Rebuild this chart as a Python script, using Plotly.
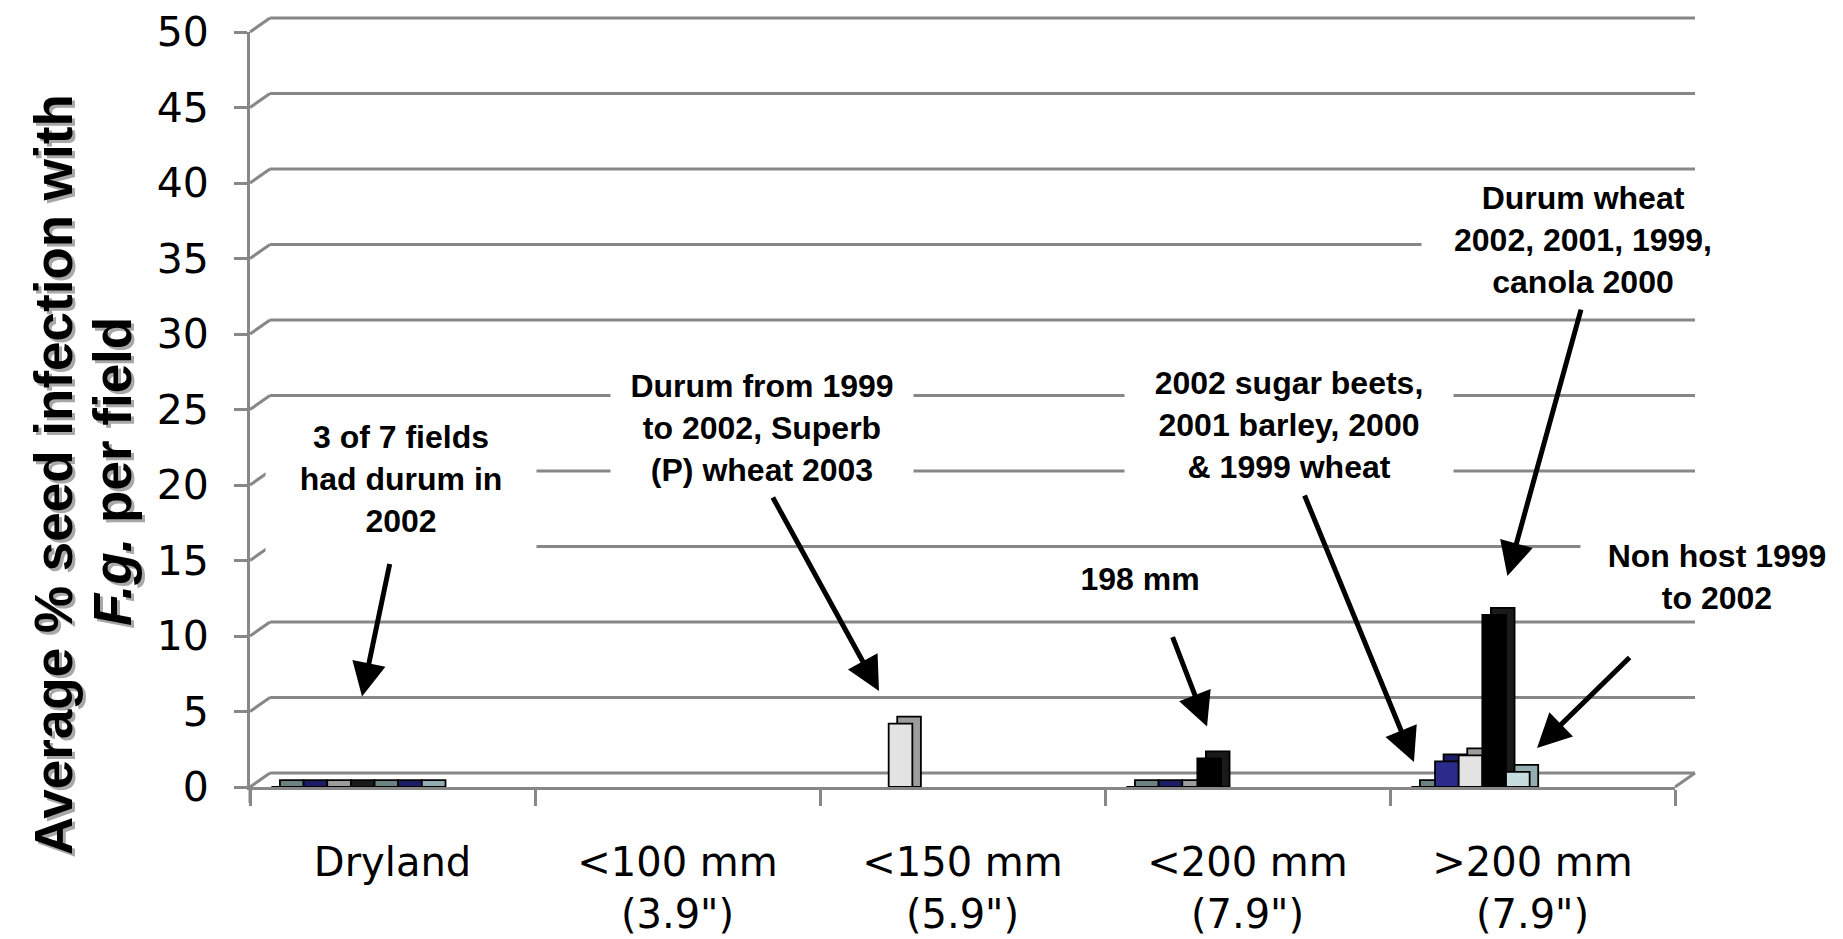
import plotly.graph_objects as go

# ---------------- data ----------------
CATEGORIES = ["Dryland", "&lt;100 mm<br>(3.9\")", "&lt;150 mm<br>(5.9\")",
              "&lt;200 mm<br>(7.9\")", "&gt;200 mm<br>(7.9\")"]
# seven field slots per irrigation class (None = no field in that slot)
FIELD_1 = [0, None, None, 0, 0]
FIELD_2 = [0, None, None, 0, 1.7]
FIELD_3 = [0, None, 4.2, 0, 2.1]
FIELD_4 = [0, None, None, 1.9, 11.4]
FIELD_5 = [0, None, None, None, 1.0]
FIELD_6 = [0, None, None, None, None]
FIELD_7 = [0, None, None, None, None]
FIELDS = [FIELD_1, FIELD_2, FIELD_3, FIELD_4, FIELD_5, FIELD_6, FIELD_7]
Y_TICKS = [0, 5, 10, 15, 20, 25, 30, 35, 40, 45, 50]

TITLE_LINE_1 = "Average % seed infection with"
TITLE_LINE_2 = "<i>F.g.</i> per field"

NOTES = [
    "3 of 7 fields<br>had durum in<br>2002",
    "Durum from 1999<br>to 2002, Superb<br>(P) wheat 2003",
    "198 mm",
    "2002 sugar beets,<br>2001 barley, 2000<br>&amp; 1999 wheat",
    "Durum wheat<br>2002, 2001, 1999,<br>canola 2000",
    "Non host 1999<br>to 2002",
]

# ---------------- style ----------------
TEAL, NAVY, LGRAY, BLACK, CYAN = "#8BA4A4", "#2B2B8C", "#E3E3E3", "#000000", "#C6DCDF"
TEAL_D, NAVY_D, LGRAY_D, BLACK_D, CYAN_D = "#6A8282", "#1D1D66", "#9C9C9C", "#1A1A1A", "#93AEB2"
FRONT_COLORS = [TEAL, NAVY, LGRAY, BLACK, [TEAL, TEAL, TEAL, TEAL, CYAN], NAVY, CYAN]
DEPTH_COLORS = [TEAL_D, NAVY_D, LGRAY_D, BLACK_D, [TEAL_D, TEAL_D, TEAL_D, TEAL_D, CYAN_D], NAVY_D, CYAN_D]
GRID = "#878787"

SLOT0, SLOT_PITCH, BAR_W = -0.425, 0.083, 0.083
DEPTH_X, DEPTH_Y = 0.030, 0.46   # pseudo-3D depth of bars (x units, y units)

W, H = 1843, 939
ML, MR, MT, MB = 250, 168, 32, 152
PW, PH = W - ML - MR, H - MT - MB
YMAX = 50
NCAT = len(CATEGORIES)
BACK_DX, BACK_DY = 20 / PW, 14 / PH   # back wall offset in paper units

fig = go.Figure()

# depth (side/top) faces first
for k, vals in enumerate(FIELDS):
    fig.add_trace(go.Bar(
        x=CATEGORIES, y=[None if v is None else v + DEPTH_Y for v in vals],
        offset=SLOT0 + k * SLOT_PITCH + DEPTH_X, width=BAR_W,
        marker=dict(color=DEPTH_COLORS[k], line=dict(color="black", width=1.8)),
        hoverinfo="skip"))
# front faces
for k, vals in enumerate(FIELDS):
    fig.add_trace(go.Bar(
        x=CATEGORIES, y=vals,
        offset=SLOT0 + k * SLOT_PITCH, width=BAR_W,
        marker=dict(color=FRONT_COLORS[k], line=dict(color="black", width=1.8)),
        name=f"Field {k+1}"))

# ---------------- walls / gridlines ----------------
shapes = []
for v in Y_TICKS:
    yf = v / YMAX
    shapes.append(dict(type="line", xref="paper", yref="paper", x0=0, y0=yf,
                       x1=BACK_DX, y1=yf + BACK_DY, line=dict(color=GRID, width=3), layer="below"))
    shapes.append(dict(type="line", xref="paper", yref="paper", x0=BACK_DX, y0=yf + BACK_DY,
                       x1=1 + BACK_DX, y1=yf + BACK_DY, line=dict(color=GRID, width=3), layer="below"))
shapes.append(dict(type="line", xref="paper", yref="paper", x0=1, y0=0, x1=1 + BACK_DX, y1=BACK_DY,
                   line=dict(color=GRID, width=3), layer="below"))
shapes.append(dict(type="line", xref="paper", yref="paper", x0=0, y0=0, x1=0, y1=-16 / PH,
                   line=dict(color=GRID, width=3), layer="below"))

# ---------------- annotations ----------------
# (category position, value, box width px, box height px)
NOTE_POS = [(0.03, 20.4, 268, 150), (1.296, 23.8, 300, 150), (2.623, 13.8, 140, 50),
            (3.146, 24.0, 326, 150), (4.177, 36.2, 320, 110), (4.647, 13.9, 270, 80)]
# arrow head (category position, value) and tail offset in px
ARROWS = [(-0.107, 6.0, 28, -134), (1.707, 6.36, -107, -195), (2.858, 4.0, -35, -91),
          (3.584, 1.66, -110, -268), (3.912, 13.97, 74, -268), (4.016, 2.58, 94, -92)]

annotations = []
for txt, (x, y, bw, bh) in zip(NOTES, NOTE_POS):
    annotations.append(dict(x=(x + 0.5) / NCAT, y=y / YMAX, xref="paper", yref="paper",
                            xanchor="center", yanchor="middle",
                            text=f"<b>{txt}</b>", showarrow=False,
                            font=dict(family="Liberation Sans, Arial", size=32, color="black"),
                            bgcolor="white", width=bw, height=bh, align="center", valign="middle"))
for (x, y, ax, ay) in ARROWS:
    annotations.append(dict(x=x, y=y, xref="x", yref="y", ax=ax, ay=ay, axref="pixel", ayref="pixel",
                            text="", showarrow=True, arrowhead=2, arrowsize=1.35, arrowwidth=5,
                            arrowcolor="black", standoff=0, startstandoff=0))

for txt, xp, yp in [(TITLE_LINE_1, (53 - ML) / PW, (H - MB - 475) / PH),
                    (TITLE_LINE_2, (112 - ML) / PW, (H - MB - 472) / PH)]:
    for col, dx, dy in [("#A8A8A8", 3, -3), ("black", 0, 0)]:
        annotations.append(dict(x=xp, y=yp, xref="paper", yref="paper", text=f"<b>{txt}</b>",
                                showarrow=False, textangle=-90, xshift=dx, yshift=dy,
                                font=dict(family="Liberation Sans, Arial", size=53, color=col),
                                xanchor="center", yanchor="middle"))

fig.update_layout(
    width=W, height=H, margin=dict(l=ML, r=MR, t=MT, b=MB, autoexpand=False),
    barmode="overlay", showlegend=False, plot_bgcolor="white", paper_bgcolor="white",
    shapes=shapes, annotations=annotations,
    xaxis=dict(type="category", range=[-0.5, 4.5], showline=True, linecolor=GRID, linewidth=3,
               ticks="outside", tickson="boundaries", ticklen=16, tickwidth=2.5, tickcolor=GRID,
               showgrid=False, zeroline=False, ticklabelstandoff=38,
               tickfont=dict(family="DejaVu Sans", size=40, color="black")),
    yaxis=dict(range=[0, YMAX], tickvals=Y_TICKS, showline=True, linecolor=GRID, linewidth=3,
               ticks="outside", ticklen=13, tickwidth=3, tickcolor=GRID, showgrid=False,
               zeroline=False, ticklabelstandoff=17,
               tickfont=dict(family="DejaVu Sans", size=41, color="black")),
)

fig.write_html("out.html", config={"displayModeBar": False},
               post_script="document.body.style.margin='0px';")
